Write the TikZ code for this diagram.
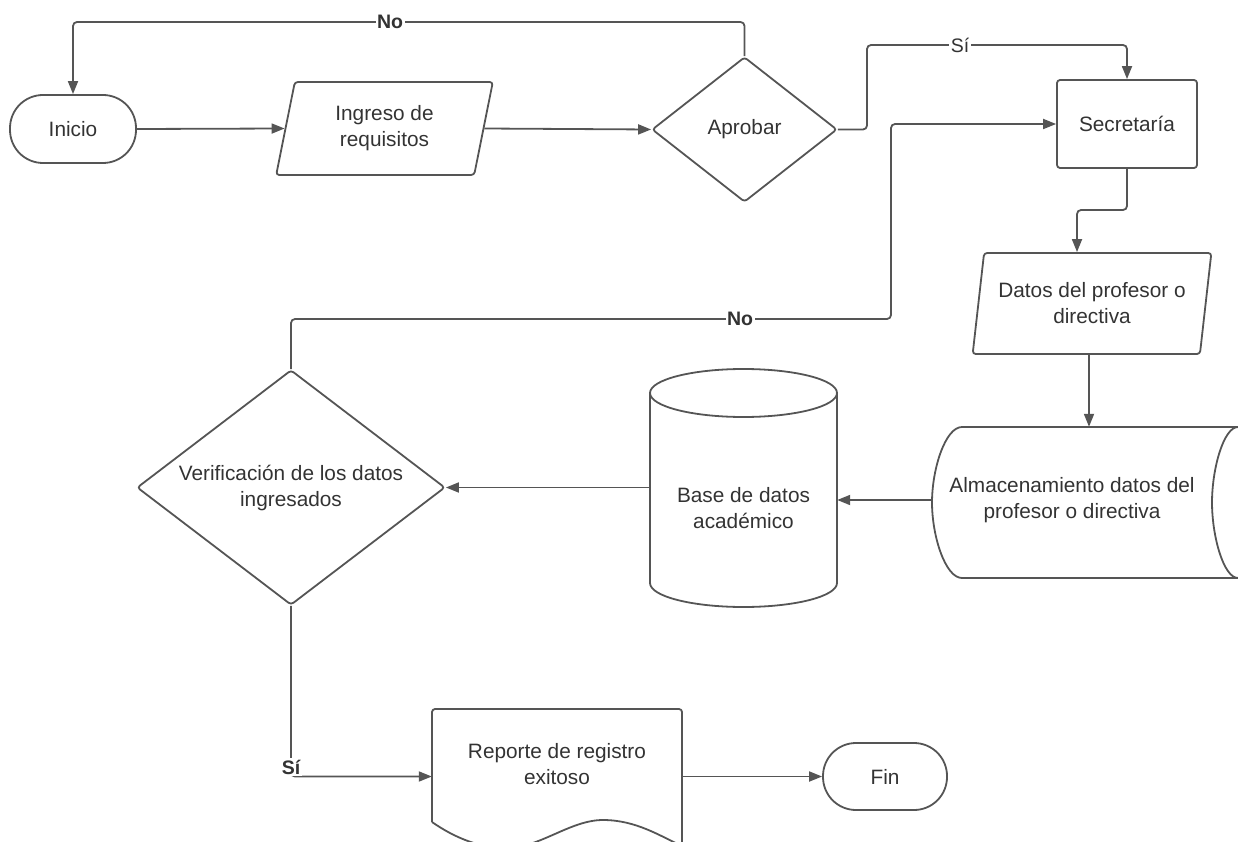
\documentclass[tikz,border=0pt]{standalone}
\usepackage{fontspec}
\setmainfont{Liberation Sans}
\usetikzlibrary{shapes.geometric,arrows.meta,calc}
\definecolor{ln}{HTML}{555555}
\definecolor{tx}{HTML}{333333}
\begin{document}
\begin{tikzpicture}[x=1pt,y=-1pt,
  every node/.style={text=tx, font=\fontsize{20.8}{26}\selectfont, align=center, inner sep=0pt},
  shp/.style={draw=ln, line width=1.8pt, line join=round},
  term/.style={shp, rounded corners=33pt, minimum width=126pt, minimum height=68pt},
  proc/.style={shp, rounded corners=3pt, minimum width=140pt, minimum height=88pt},
  io/.style={shp, trapezium, trapezium stretches=true, rounded corners=3pt},
  dec/.style={shp, diamond, aspect=1.6, rounded corners=3pt},
  arr/.style={draw=ln, line width=1.8pt, rounded corners=4pt, -{Triangle[length=13pt,width=10pt]}},
  lbl/.style={fill=white, font=\fontsize{19.5}{22}\selectfont\bfseries, inner sep=1.5pt},
  lblr/.style={fill=white, font=\fontsize{19.5}{22}\selectfont, inner sep=1.5pt},
]
\path[use as bounding box] (0,0) rectangle (1238,842);
\clip (0,0) rectangle (1238,842);

% --- nodes ---
\node[term] (ini) at (73,129) {Inicio};
\node[io, minimum width=217pt, minimum height=93pt,
      trapezium left angle=77.3, trapezium right angle=102.7] (ing) at (384.5,128.5) {Ingreso de\\requisitos};
\node[dec, minimum width=185pt, minimum height=145pt] (apr) at (744.5,129.5) {Aprobar};
\node[proc] (sec) at (1127,124) {Secretaría};
\node[io, minimum width=239pt, minimum height=101pt,
      trapezium left angle=76.5, trapezium right angle=103.5] (dat) at (1092,303.5) {Datos del profesor o\\directiva};
\node[minimum width=280pt, minimum height=146pt] (sto) at (1072,500) {Almacenamiento datos del\\profesor o directiva};
\node[minimum width=187pt, minimum height=120pt] (db) at (743.5,508) {Base de datos\\académico};
\node[dec, minimum width=308pt, minimum height=235pt] (ver) at (291,487.5) {Verificación de los datos\\ingresados};
\node[minimum width=250pt, minimum height=100pt] (rep) at (557,764) {Reporte de registro\\exitoso};
\node[term, minimum width=124pt, minimum height=67pt] (fin) at (885,776.5) {Fin};

% stored data outline
\draw[shp] (962,427) -- (1238,427)
  .. controls (1223.6,427) and (1212,468.7) .. (1212,502.5)
  .. controls (1212,536.3) and (1223.6,578) .. (1238,578)
  -- (962,578)
  .. controls (945.4,578) and (932,536.3) .. (932,502.5)
  .. controls (932,468.7) and (945.4,427) .. (962,427) -- cycle;

% database cylinder
\draw[shp] (743.5,393) ellipse[x radius=93.5, y radius=24];
\draw[shp] (650,393) -- (650,583)
  .. controls (650,596.3) and (691.9,607) .. (743.5,607)
  .. controls (795.1,607) and (837,596.3) .. (837,583) -- (837,393);

% document outline
\draw[shp, rounded corners=3pt] (432,822) -- (432,709) -- (682,709) -- (682,860);
\draw[shp] (432,822) .. controls (455,838) and (480,848) .. (506,848)
  .. controls (540,848) and (570,820) .. (603,820)
  .. controls (636,820) and (660,836) .. (682,846);

% --- helper points for the routed connectors ---
\coordinate (yNo) at (0,22);
\coordinate (siA) at (867,45);
\coordinate (noB) at (891,319);
\coordinate (elb) at (1077,210);
\coordinate (xDat) at (1089,0);

% --- connectors ---
\draw[arr] (apr.north) -- (apr.north |- yNo) -| (ini.north);
\draw[arr] (ini.east) -- (ing.west);
\draw[arr] (ing.east) -- (apr.west);
\draw[arr] (apr.east) -| (siA) -| (sec.north);
\draw[arr] (sec.south) |- (elb) -- (elb |- dat.north);
\draw[arr] (dat.south -| xDat) -- (sto.north -| xDat);
\draw[arr] (sto.west) -- (sto.west -| db.east);
\draw[arr] (ver.east -| db.west) -- (ver.east);
\draw[arr] (ver.north) |- (noB) |- (sec.west);
\draw[arr] (ver.south) |- (rep.west |- fin.west);
\draw[arr] (rep.east |- fin.west) -- (fin.west);

% --- connector labels ---
\node[lbl] (lNo1) at (390,22) {No};
\node[lblr] (lSi1) at (960,45) {Sí};
\node[lbl] (lNo2) at (740,319) {No};
\node[lbl] (lSi2) at (291,767) {Sí};
\end{tikzpicture}
\end{document}
